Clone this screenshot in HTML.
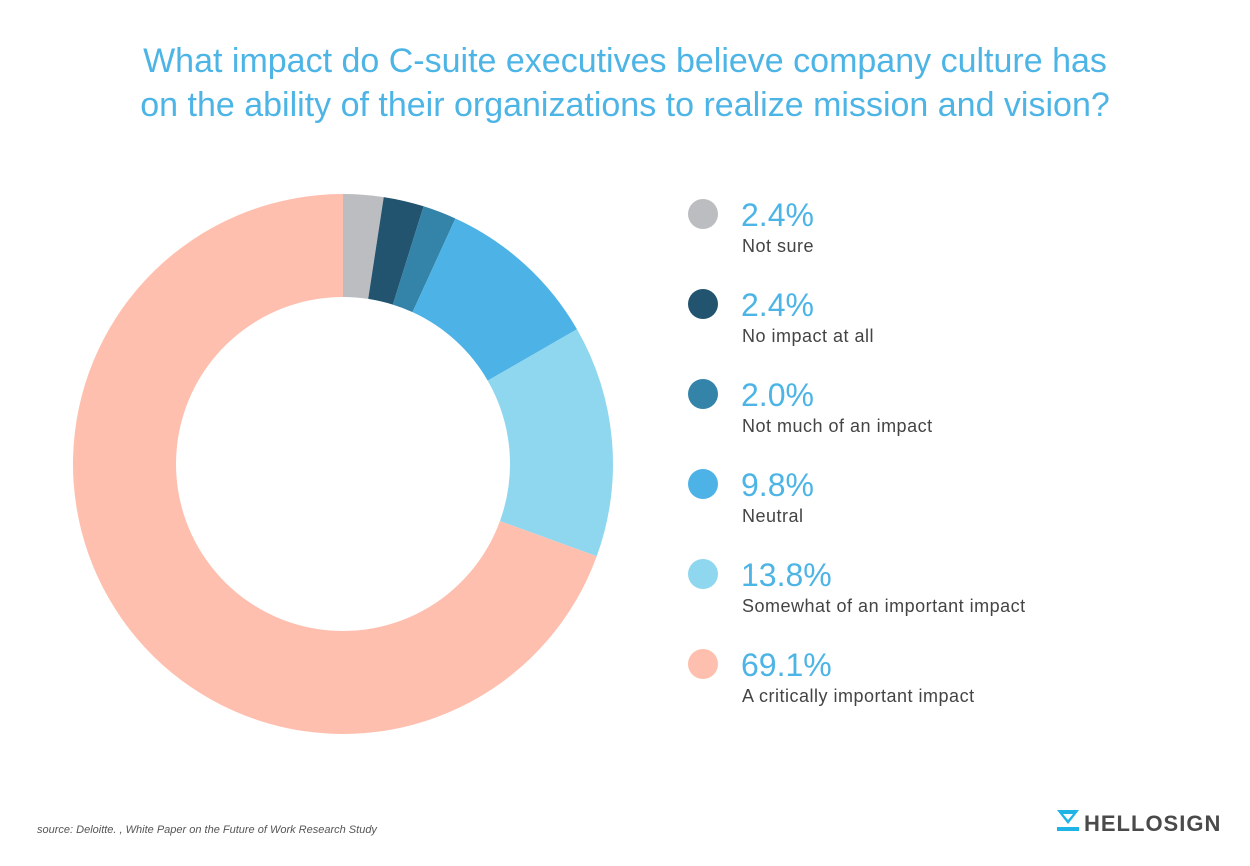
<!DOCTYPE html>
<html><head><meta charset="utf-8"><style>
body{margin:0;background:#fff;width:1250px;height:861px;overflow:hidden;font-family:"Liberation Sans",sans-serif}
</style></head><body>
<svg width="1250" height="861">
<text x="625" y="72" text-anchor="middle" font-size="34" fill="#4db4e6">What impact do C-suite executives believe company culture has</text>
<text x="625" y="116" text-anchor="middle" font-size="34" fill="#4db4e6">on the ability of their organizations to realize mission and vision?</text>
<g id="donut"></g>
<g id="legend"></g>
<text x="37" y="833" font-size="11" font-style="italic" fill="#555">source: Deloitte. , White Paper on the Future of Work Research Study</text>
<g>
<path d="M1057 810 H1079 L1068 824 Z M1063 814 H1073 L1068 820 Z" fill="#1fb4e6" fill-rule="evenodd"/>
<rect x="1057" y="827" width="22" height="4" fill="#1fb4e6"/>
<text x="1084" y="831" font-size="22" font-weight="bold" fill="#4a4a4a" letter-spacing="1">HELLOSIGN</text>
</g>
</svg>
<script>
const categories=["Not sure","No impact at all","Not much of an impact","Neutral","Somewhat of an important impact","A critically important impact"];
const values=[2.4,2.4,2.0,9.8,13.8,69.1];
const labels=["2.4%","2.4%","2.0%","9.8%","13.8%","69.1%"];
const colors=["#bcbdc0","#22536f","#3484a9","#4db3e6","#8fd7ef","#ffbfae"];
const NS="http://www.w3.org/2000/svg";
const cx=343,cy=464,R=270,r=167;
const total=values.reduce((a,b)=>a+b,0);
const donut=document.getElementById('donut'),legend=document.getElementById('legend');
function pt(a,rad){return [cx+rad*Math.sin(a),cy-rad*Math.cos(a)];}
let acc=0;
values.forEach((v,i)=>{
const a0=acc/total*2*Math.PI;acc+=v;const a1=acc/total*2*Math.PI;
const large=(a1-a0)>Math.PI?1:0;
const [x0,y0]=pt(a0,R),[x1,y1]=pt(a1,R),[x2,y2]=pt(a1,r),[x3,y3]=pt(a0,r);
const p=document.createElementNS(NS,'path');
p.setAttribute('d',`M${x0} ${y0} A${R} ${R} 0 ${large} 1 ${x1} ${y1} L${x2} ${y2} A${r} ${r} 0 ${large} 0 ${x3} ${y3} Z`);
p.setAttribute('fill',colors[i]);


donut.appendChild(p);
const y=214+90*i;
const c=document.createElementNS(NS,'circle');
c.setAttribute('cx',703);c.setAttribute('cy',y);c.setAttribute('r',15);c.setAttribute('fill',colors[i]);


legend.appendChild(c);
const t=document.createElementNS(NS,'text');
t.setAttribute('x',741);t.setAttribute('y',y+12);t.setAttribute('font-size','32');t.setAttribute('fill','#4db4e6');
t.textContent=labels[i];


legend.appendChild(t);
const l=document.createElementNS(NS,'text');
l.setAttribute('x',742);l.setAttribute('y',y+38);l.setAttribute('font-size','18');l.setAttribute('fill','#444');l.setAttribute('letter-spacing','0.5');
l.textContent=categories[i];


legend.appendChild(l);
});
</script>
</body></html>
